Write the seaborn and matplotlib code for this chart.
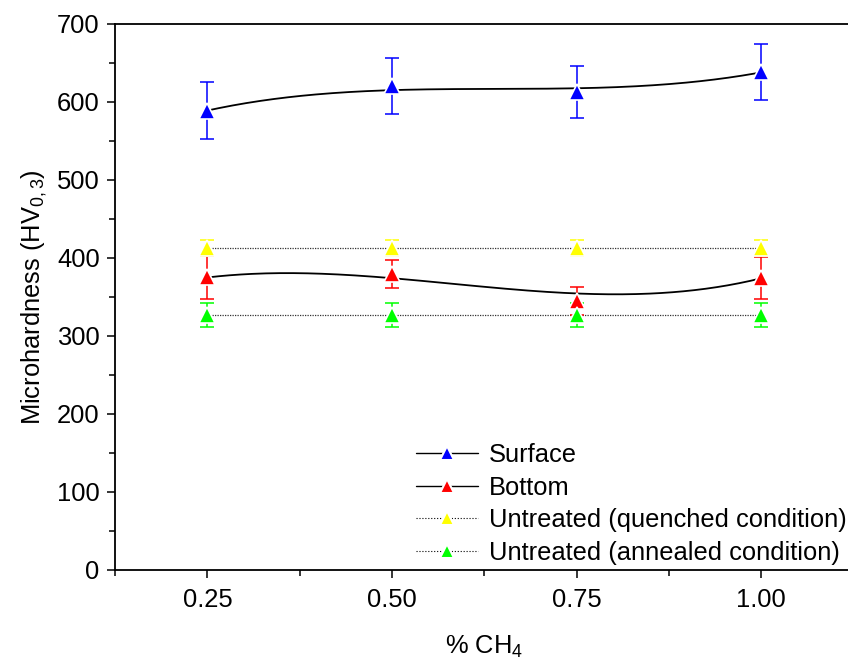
import numpy as np
import pandas as pd
import seaborn as sns
import matplotlib
matplotlib.use("Agg")
import matplotlib.pyplot as plt
from matplotlib.lines import Line2D
from matplotlib.ticker import MultipleLocator

sns.set_style("ticks")
plt.rcParams['font.family'] = ['Liberation Sans', 'DejaVu Sans']
plt.rcParams['mathtext.fontset'] = 'custom'
plt.rcParams['mathtext.rm'] = 'Liberation Sans'
plt.rcParams['mathtext.it'] = 'Liberation Sans:italic'
plt.rcParams['text.color'] = 'black'
plt.rcParams['axes.labelcolor'] = 'black'
plt.rcParams['xtick.color'] = 'black'
plt.rcParams['ytick.color'] = 'black'

# data
ch4 = [0.25, 0.50, 0.75, 1.00]
surface = [589, 621, 613, 638]
surface_err = [36, 36, 33, 36]
bottom = [375, 379, 345, 374]
bottom_err = [28, 18, 18, 27]
quenched = [413, 413, 413, 413]
quenched_err = [10, 10, 10, 10]
annealed = [327, 327, 327, 327]
annealed_err = [15, 15, 15, 15]

labels = ["Surface", "Bottom", "Untreated (quenched condition)", "Untreated (annealed condition)"]
colors = ["#0000ff", "#ff0000", "#ffff00", "#00ff00"]


def smooth(x, y, n=200):
    # smooth connecting curve (mix of bezier and cubic through the points)
    x = np.asarray(x, float)
    y = np.asarray(y, float)
    xs = np.linspace(x.min(), x.max(), n)
    t = (xs - x.min()) / (x.max() - x.min())
    bez = ((1 - t) ** 3 * y[0] + 3 * (1 - t) ** 2 * t * y[1]
           + 3 * (1 - t) * t ** 2 * y[2] + t ** 3 * y[3])
    cub = np.polyval(np.polyfit(x, y, 3), xs)
    return pd.DataFrame({"x": xs, "y": 0.55 * bez + 0.45 * cub})


fig = plt.figure(figsize=(8.48, 6.64), dpi=100)
ax = fig.add_axes([0.1356, 0.1416, 0.8711, 0.8223])

# connecting lines
sns.lineplot(data=smooth(ch4, surface), x="x", y="y", color="black", lw=1.3, ax=ax, zorder=2)
sns.lineplot(data=smooth(ch4, bottom), x="x", y="y", color="black", lw=1.3, ax=ax, zorder=2)
for vals in [quenched, annealed]:
    sns.lineplot(x=ch4, y=vals, color="#333333", lw=0.9, ls=(0, (1, 1)), ax=ax, zorder=2)

series = [surface, bottom, quenched, annealed]
errs = [surface_err, bottom_err, quenched_err, annealed_err]
for vals, err, c in zip(series, errs, colors):
    ax.errorbar(ch4, vals, yerr=err, fmt="none", ecolor=c, elinewidth=1.1,
                capsize=5, capthick=1.1, zorder=3)
    ax.plot(ch4, vals, ls="none", marker="^", ms=11, mfc=c, mec="white",
            mew=1.2, zorder=4)

ax.set_xlim(0.125, 1.125)
ax.set_ylim(0, 700)
ax.set_xticks(ch4)
ax.set_xticklabels(["0.25", "0.50", "0.75", "1.00"])
ax.xaxis.set_minor_locator(MultipleLocator(0.125))
ax.yaxis.set_major_locator(MultipleLocator(100))
ax.yaxis.set_minor_locator(MultipleLocator(50))
ax.tick_params(which="major", direction="out", length=6, width=1.1, labelsize=18.4, pad=5)
ax.tick_params(which="minor", direction="out", length=4, width=1.1)
ax.tick_params(axis="x", which="major", pad=7)
for s in ax.spines.values():
    s.set_linewidth(1.3)
    s.set_color("black")

ax.set_xlabel("% CH$\\mathregular{_4}$", fontsize=18.4, labelpad=16)
ax.set_ylabel("Microhardness (HV$\\mathregular{_{0,3}}$)", fontsize=18.4, labelpad=6)

handles = []
for c, ls in zip(colors, ["-", "-", ":", ":"]):
    handles.append(Line2D([0], [0], color="black", lw=1.0 if ls == "-" else 0.8,
                          ls=ls, marker="^", ms=10, mfc=c, mec="white", mew=1.5))
ax.legend(handles, labels, loc="upper left", bbox_to_anchor=(0.408, 0.232),
          frameon=False, fontsize=18.4, handlelength=2.4, handletextpad=0.45,
          labelspacing=0.33, borderpad=0, borderaxespad=0, numpoints=1)

plt.savefig("out.png", dpi=100)
